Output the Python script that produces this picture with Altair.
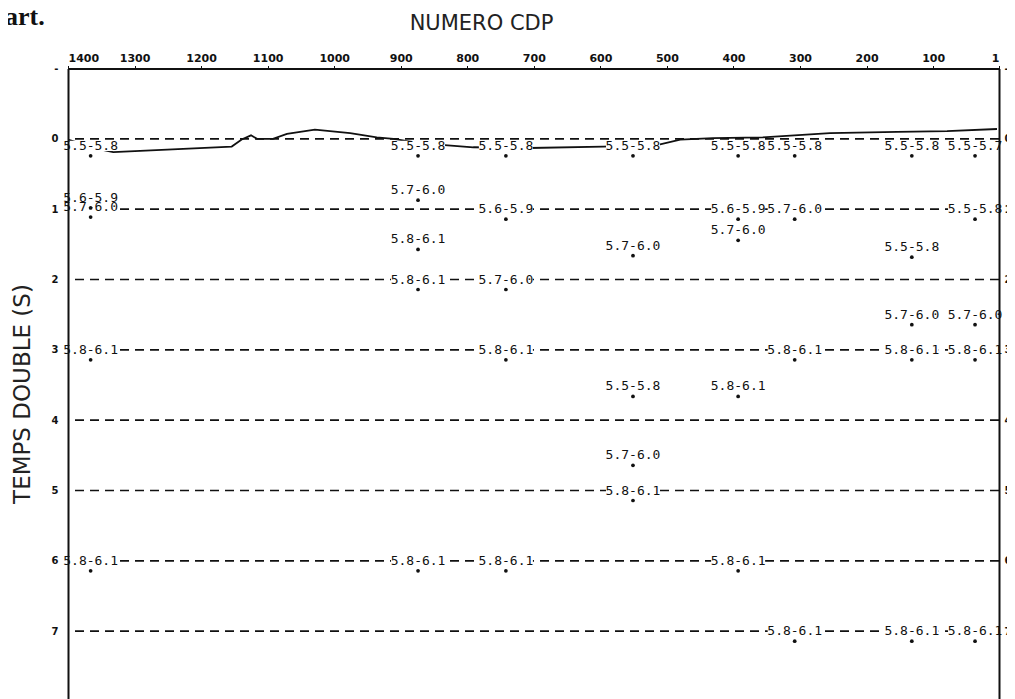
import altair as alt
import pandas as pd

# ---- axis ticks ----
cdp_ticks = [1400, 1300, 1200, 1100, 1000, 900, 800, 700, 600, 500, 400, 300, 200, 100, 1]
time_ticks = [-1, 0, 1, 2, 3, 4, 5, 6, 7]

# ---- dashed horizons (two-way time, s) ----
horizon_times = [0, 1, 2, 3, 4, 5, 6, 7]

# ---- sea-floor line ----
floor_cdp = [1400, 1352, 1332, 1154, 1139, 1125, 1116, 1092, 1071, 1029, 976, 936, 911,
             871, 834, 791, 706, 596, 515, 480, 431, 356, 255, 154, 79, 4]
floor_t = [0.01, 0.15, 0.19, 0.11, 0.01, -0.05, 0.0, 0.0, -0.07, -0.13, -0.08, -0.02, 0.0,
           0.06, 0.09, 0.12, 0.13, 0.11, 0.09, 0.01, -0.01, -0.02, -0.08, -0.10, -0.11, -0.14]

# ---- velocity-range labels ----
lab_cdp = [1366, 874, 742, 551, 393, 308, 132, 37,
           1366, 1366, 874, 742, 393, 308, 37,
           393, 874, 551, 132,
           874, 742,
           132, 37,
           1366, 742, 308, 132, 37,
           551, 393,
           551,
           551,
           1366, 874, 742, 393,
           308, 132, 37]
lab_t = [0.10, 0.10, 0.10, 0.10, 0.10, 0.10, 0.10, 0.10,
         0.84, 0.97, 0.73, 1.0, 1.0, 1.0, 1.0,
         1.30, 1.43, 1.52, 1.54,
         2.0, 2.0,
         2.5, 2.5,
         3.0, 3.0, 3.0, 3.0, 3.0,
         3.52, 3.52,
         4.5,
         5.0,
         6.0, 6.0, 6.0, 6.0,
         7.0, 7.0, 7.0]
lab_text = ["5.5-5.8", "5.5-5.8", "5.5-5.8", "5.5-5.8", "5.5-5.8", "5.5-5.8", "5.5-5.8", "5.5-5.7",
            "5.6-5.9", "5.7-6.0", "5.7-6.0", "5.6-5.9", "5.6-5.9", "5.7-6.0", "5.5-5.8",
            "5.7-6.0", "5.8-6.1", "5.7-6.0", "5.5-5.8",
            "5.8-6.1", "5.7-6.0",
            "5.7-6.0", "5.7-6.0",
            "5.8-6.1", "5.8-6.1", "5.8-6.1", "5.8-6.1", "5.8-6.1",
            "5.5-5.8", "5.8-6.1",
            "5.7-6.0",
            "5.8-6.1",
            "5.8-6.1", "5.8-6.1", "5.8-6.1", "5.8-6.1",
            "5.8-6.1", "5.8-6.1", "5.8-6.1"]

INK = "#111111"
xscale = alt.Scale(domain=[1400, 1], nice=False, zero=False)
yscale = alt.Scale(domain=[-1, 8], reverse=True, nice=False, zero=False)

hz = pd.DataFrame({"t": horizon_times})
fl = pd.DataFrame({"cdp": floor_cdp, "t": floor_t, "o": list(range(len(floor_cdp)))})
lb = pd.DataFrame({"cdp": lab_cdp, "t": lab_t, "txt": lab_text})

label_expr = "datum.value == -1 ? '-' : datum.label"

rules = alt.Chart(hz).mark_rule(strokeDash=[9, 6], strokeWidth=1.7, color=INK).encode(
    y=alt.Y("t:Q", scale=yscale,
            axis=alt.Axis(orient="left", values=time_ticks, format="d", labelExpr=label_expr,
                          ticks=False, grid=False, labelPadding=10, labelFontSize=10,
                          labelFont="DejaVu Sans", labelFontWeight="bold", labelColor=INK,
                          domainColor=INK, domainWidth=2, zindex=1,
                          title="TEMPS DOUBLE (S)", titleFont="DejaVu Sans", titleFontSize=23,
                          titleFontWeight="normal", titleColor="#222", titleAngle=-90,
                          titleX=-46, titleY=325, titleAlign="center", titleBaseline="middle"))
)

floor = alt.Chart(fl).mark_line(color=INK, strokeWidth=1.8, clip=True).encode(
    x=alt.X("cdp:Q", scale=xscale,
            axis=alt.Axis(orient="top", values=cdp_ticks, format="d", labelAngle=0, grid=False,
                          ticks=True, tickSize=3, tickColor=INK, labelPadding=2, zindex=1,
                          labelFont="DejaVu Sans", labelFontSize=11, labelFontWeight="bold",
                          labelColor=INK, domainColor=INK, domainWidth=2,
                          title="NUMERO CDP", titleFont="DejaVu Sans", titleFontSize=21,
                          titleFontWeight="normal", titleColor="#222",
                          titleX=413, titleY=-45, titleAlign="center", titleBaseline="middle")),
    y=alt.Y("t:Q", scale=yscale, axis=None),
    order="o:Q",
)

# white backing behind each label so the dashed horizon stops at the text
halo = alt.Chart(lb).mark_point(shape="M-1,-0.19L1,-0.19L1,0.19L-1,0.19Z", size=2916,
                                filled=True, color="white", opacity=1, strokeWidth=0).encode(
    x=alt.X("cdp:Q", scale=xscale, axis=None),
    y=alt.Y("t:Q", scale=yscale, axis=None),
)

dots = alt.Chart(lb).mark_circle(size=14, color=INK, opacity=1, yOffset=10).encode(
    x=alt.X("cdp:Q", scale=xscale, axis=None),
    y=alt.Y("t:Q", scale=yscale,
            axis=alt.Axis(orient="right", values=time_ticks, format="d", labelExpr=label_expr,
                          ticks=False, grid=False, labelPadding=5, labelFontSize=10,
                          labelFont="DejaVu Sans", labelFontWeight="bold", labelColor=INK,
                          domainColor=INK, domainWidth=2, zindex=1, title=None)),
)

texts = alt.Chart(lb).mark_text(font="DejaVu Sans Mono", fontSize=13, align="center",
                                baseline="middle", color=INK).encode(
    x=alt.X("cdp:Q", scale=xscale, axis=None),
    y=alt.Y("t:Q", scale=yscale, axis=None),
    text="txt:N",
)

scan = alt.Chart(pd.DataFrame({"s": ["art."]})).mark_text(
    font="Liberation Serif", fontSize=26, fontWeight="bold", align="left",
    baseline="alphabetic", color="#111").encode(
    x=alt.value(-63), y=alt.value(-44), text="s:N")

chart = alt.layer(rules, floor, halo, dots, texts, scan).resolve_axis(
    x="independent", y="independent"
).properties(
    width=931, height=633,
    padding={"left": 60, "top": 60.5, "right": 8, "bottom": 0},
    autosize=alt.AutoSizeParams(type="none"),
).configure_view(stroke=None)

chart.save("out.html", embed_options={"renderer": "svg", "actions": False})
